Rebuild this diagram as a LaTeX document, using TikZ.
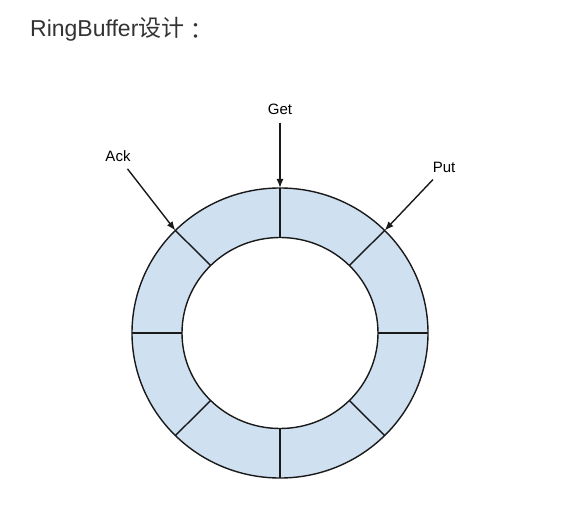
\documentclass[tikz,border=0pt]{standalone}
\usepackage{fontspec}
\setmainfont{Liberation Sans}
\newfontfamily\cjk{Noto Sans CJK SC}
\newfontfamily\cjkpunct{Noto Sans CJK TC}
\usetikzlibrary{arrows.meta}
\definecolor{slotblue}{HTML}{CFE0F1}
\definecolor{titlegray}{HTML}{333333}
\begin{document}
\begin{tikzpicture}[x=1pt, y=-1pt,
  ringline/.style={draw=black!90, line width=1.4pt},
  pointer/.style={-{Latex[length=9pt,width=7pt]}, line width=1.4pt, draw=black!90, shorten <=4pt},
  tag/.style={anchor=base, font=\fontsize{15}{18}\selectfont}]
\useasboundingbox (0,0) rectangle (569,518);
\node[anchor=base west, inner sep=0pt, text=titlegray, font=\fontsize{23}{28}\selectfont] (title) at (30,37) {RingBuffer{\cjk 设计}\raisebox{-3pt}{\cjkpunct ：}};
% ring
\coordinate (hub) at (280,333);
\fill[slotblue, even odd rule] (hub) ellipse [x radius=148pt, y radius=145pt] (hub) ellipse [x radius=98pt, y radius=95.5pt];
\draw[ringline] (hub) ellipse [x radius=148pt, y radius=145pt];
\draw[ringline] (hub) ellipse [x radius=98pt, y radius=95.5pt];
\foreach \a in {0,45,...,315}
  \draw[ringline] ([shift={(\a:98pt and 95.5pt)}]hub) -- ([shift={(\a:148pt and 145pt)}]hub);
\coordinate (get-in) at ([shift={(90:148pt and 145pt)}]hub);
\coordinate (put-in) at ([shift={(45:148pt and 145pt)}]hub);
\coordinate (ack-in) at ([shift={(135:148pt and 145pt)}]hub);
% pointers
\node[tag] (get) at (280,115) {Get};
\node[tag] (ack) at (118,162) {Ack};
\node[tag] (put) at (444,173) {Put};
\draw[pointer] (get) -- (get-in);
\draw[pointer] (ack) -- (ack-in);
\draw[pointer] (put) -- (put-in);
\end{tikzpicture}
\end{document}
